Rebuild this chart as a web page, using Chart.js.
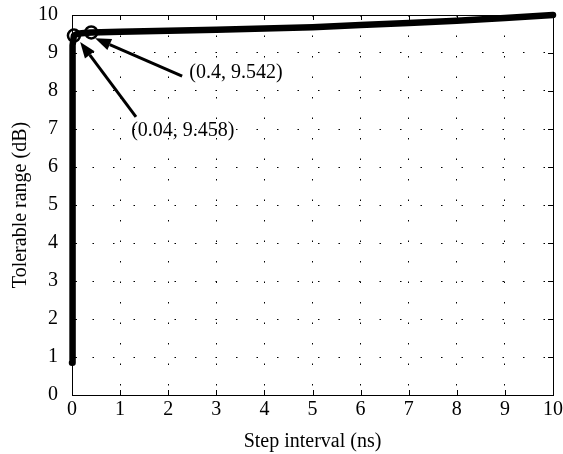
<!DOCTYPE html>
<html>
<head>
<meta charset="utf-8">
<script src="https://cdn.jsdelivr.net/npm/chart.js@4.4.0/dist/chart.umd.min.js"></script>
<style>
  html, body { margin: 0; padding: 0; background: #fff; }
  #wrap { width: 563px; height: 454px; }
</style>
</head>
<body>
<div id="wrap"><canvas id="chart"></canvas></div>
<script>
// step interval (ns) and tolerable range (dB)
const stepInterval = [0, 0.005, 0.01, 0.02, 0.04, 0.1, 0.2, 0.4, 1, 2, 3, 4, 5, 6, 7, 8, 9, 10];
const tolerableRange = [0.85, 5.2, 8.0, 9.2, 9.458, 9.5, 9.52, 9.542, 9.56, 9.585, 9.61, 9.645, 9.68, 9.735, 9.79, 9.85, 9.92, 10.0];

// highlighted points
const markX = [0.04, 0.4];
const markY = [9.458, 9.542];
const markText = ['(0.04, 9.458)', '(0.4, 9.542)'];

// arrow tails / tips and label anchors, in data units
const arrowTail = [[1.33, 7.32], [2.29, 8.39]];
const arrowTip = [[0.17, 9.29], [0.48, 9.39]];
const labelPos = [[1.23, 6.96], [2.44, 8.48]];

const xTicks = [0, 1, 2, 3, 4, 5, 6, 7, 8, 9, 10];
const yTicks = [0, 1, 2, 3, 4, 5, 6, 7, 8, 9, 10];

const FONT = '"Liberation Serif", "Times New Roman", serif';

const boxPlugin = {
  id: 'box',
  beforeDatasetsDraw(chart) {
    const { ctx, chartArea: a, scales: { x, y } } = chart;
    ctx.save();
    ctx.strokeStyle = '#000';
    ctx.lineWidth = 1;
    ctx.strokeRect(a.left + 0.5, a.top + 0.5, a.right - a.left, a.bottom - a.top);
    ctx.beginPath();
    xTicks.forEach(v => {
      const px = Math.round(x.getPixelForValue(v)) + 0.5;
      ctx.moveTo(px, a.bottom); ctx.lineTo(px, a.bottom - 5);
      ctx.moveTo(px, a.top); ctx.lineTo(px, a.top + 5);
    });
    yTicks.forEach(v => {
      const py = Math.round(y.getPixelForValue(v)) + 0.5;
      ctx.moveTo(a.left, py); ctx.lineTo(a.left + 5, py);
      ctx.moveTo(a.right, py); ctx.lineTo(a.right - 5, py);
    });
    ctx.stroke();
    ctx.restore();
  },
  afterDraw(chart) {
    const { ctx, scales: { x, y } } = chart;
    ctx.save();
    // arrows
    ctx.fillStyle = '#000';
    ctx.strokeStyle = '#000';
    ctx.lineWidth = 3;
    arrowTail.forEach((t, i) => {
      const x0 = x.getPixelForValue(t[0]), y0 = y.getPixelForValue(t[1]);
      const x1 = x.getPixelForValue(arrowTip[i][0]), y1 = y.getPixelForValue(arrowTip[i][1]);
      const ang = Math.atan2(y1 - y0, x1 - x0);
      const len = 16, half = 6;
      const bx = x1 - len * Math.cos(ang), by = y1 - len * Math.sin(ang);
      ctx.beginPath();
      ctx.moveTo(x0, y0); ctx.lineTo(bx, by);
      ctx.stroke();
      ctx.beginPath();
      ctx.moveTo(x1, y1);
      ctx.lineTo(bx + half * Math.sin(ang), by - half * Math.cos(ang));
      ctx.lineTo(bx - half * Math.sin(ang), by + half * Math.cos(ang));
      ctx.closePath();
      ctx.fill();
    });

    // labels
    ctx.font = '20px ' + FONT;
    ctx.textBaseline = 'middle';
    ctx.textAlign = 'left';
    labelPos.forEach((p, i) => {
      ctx.fillText(markText[i], x.getPixelForValue(p[0]), y.getPixelForValue(p[1]));
    });
    ctx.restore();
  }
};

new Chart(document.getElementById('chart'), {
  type: 'scatter',
  data: {
    datasets: [
      {
        data: stepInterval.map((v, i) => ({ x: v, y: tolerableRange[i] })),
        showLine: true,
        clip: false,
        borderColor: '#000',
        borderWidth: 6.5,
        pointRadius: 0,
        tension: 0,
        borderCapStyle: 'round',
        borderJoinStyle: 'round'
      },
      {
        data: markX.map((v, i) => ({ x: v, y: markY[i] })),
        showLine: false,
        clip: false,
        pointRadius: 6,
        pointBorderWidth: 2.5,
        pointBorderColor: '#000',
        pointBackgroundColor: 'rgba(0,0,0,0)'
      }
    ]
  },
  options: {
    responsive: true,
    maintainAspectRatio: false,
    animation: false,
    layout: { padding: { left: 0, right: 10, top: 15, bottom: 0 } },
    plugins: { legend: { display: false }, tooltip: { enabled: false } },
    scales: {
      x: {
        type: 'linear',
        min: 0, max: 10,
        afterFit: s => { s.height = 59; s.paddingLeft = 0; s.paddingRight = 0; },
        afterBuildTicks: s => { s.ticks = xTicks.map(v => ({ value: v })); },
        grid: { color: '#000', lineWidth: 1, drawTicks: false },
        border: { display: false, dash: [1.5, 19] },
        ticks: { color: '#000', font: { family: FONT, size: 20 }, padding: 3, maxRotation: 0 },
        title: { display: true, text: 'Step interval (ns)', color: '#000', font: { family: FONT, size: 20 }, padding: { top: 0, bottom: 0 } }
      },
      y: {
        type: 'linear',
        min: 0, max: 10,
        afterFit: s => { s.width = 72; s.paddingTop = 0; s.paddingBottom = 0; },
        afterBuildTicks: s => { s.ticks = yTicks.map(v => ({ value: v })); },
        grid: { color: '#000', lineWidth: 1, drawTicks: false },
        border: { display: false, dash: [1.5, 19] },
        ticks: { color: '#000', font: { family: FONT, size: 20 }, padding: 14 },
        title: { display: true, text: 'Tolerable range (dB)', color: '#000', font: { family: FONT, size: 20 }, padding: { top: 9, bottom: 0 } }
      }
    }
  },
  plugins: [boxPlugin]
});
</script>
</body>
</html>
